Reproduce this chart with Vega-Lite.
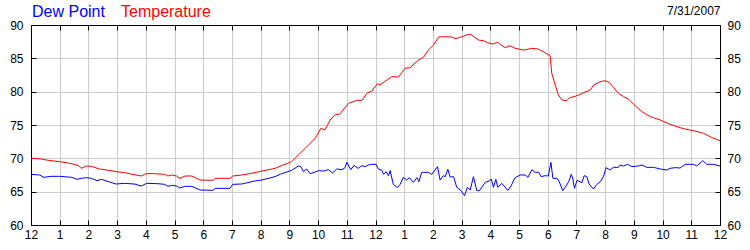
{
  "$schema": "https://vega.github.io/schema/vega-lite/v6.json",
  "width": 689,
  "height": 200,
  "autosize": {"type": "none"},
  "padding": {"left": 31, "top": 25, "right": 30, "bottom": 25},
  "background": "white",
  "config": {
    "view": {"stroke": "#000000", "strokeWidth": 1},
    "font": "Liberation Sans",
    "axis": {"labelFont": "Liberation Sans", "labelFontSize": 12, "labelColor": "#000000", "domainColor": "#000000", "tickColor": "#000000", "gridColor": "#cccccc", "gridWidth": 1, "title": null}
  },
  "datasets": {
    "weather": [
      {"hour": 0.0, "series": "Temperature", "value": 70.0},
      {"hour": 0.35, "series": "Temperature", "value": 69.9},
      {"hour": 0.6, "series": "Temperature", "value": 69.7},
      {"hour": 1.0, "series": "Temperature", "value": 69.5},
      {"hour": 1.3, "series": "Temperature", "value": 69.3},
      {"hour": 1.5, "series": "Temperature", "value": 69.1},
      {"hour": 1.65, "series": "Temperature", "value": 68.9},
      {"hour": 1.75, "series": "Temperature", "value": 68.5},
      {"hour": 1.93, "series": "Temperature", "value": 68.85},
      {"hour": 2.1, "series": "Temperature", "value": 68.8},
      {"hour": 2.39, "series": "Temperature", "value": 68.4},
      {"hour": 2.7, "series": "Temperature", "value": 68.2},
      {"hour": 2.96, "series": "Temperature", "value": 68.0},
      {"hour": 3.2, "series": "Temperature", "value": 67.9},
      {"hour": 3.48, "series": "Temperature", "value": 67.65},
      {"hour": 3.84, "series": "Temperature", "value": 67.35},
      {"hour": 4.0, "series": "Temperature", "value": 67.7},
      {"hour": 4.3, "series": "Temperature", "value": 67.7},
      {"hour": 4.66, "series": "Temperature", "value": 67.6},
      {"hour": 4.77, "series": "Temperature", "value": 67.35},
      {"hour": 4.9, "series": "Temperature", "value": 67.5},
      {"hour": 5.07, "series": "Temperature", "value": 67.35},
      {"hour": 5.18, "series": "Temperature", "value": 67.0},
      {"hour": 5.37, "series": "Temperature", "value": 67.35},
      {"hour": 5.6, "series": "Temperature", "value": 67.35},
      {"hour": 5.89, "series": "Temperature", "value": 66.75},
      {"hour": 6.35, "series": "Temperature", "value": 66.7},
      {"hour": 6.41, "series": "Temperature", "value": 67.0},
      {"hour": 6.93, "series": "Temperature", "value": 67.0},
      {"hour": 7.03, "series": "Temperature", "value": 67.35},
      {"hour": 7.34, "series": "Temperature", "value": 67.5},
      {"hour": 7.8, "series": "Temperature", "value": 67.85},
      {"hour": 8.04, "series": "Temperature", "value": 68.1},
      {"hour": 8.5, "series": "Temperature", "value": 68.5},
      {"hour": 8.7, "series": "Temperature", "value": 68.85},
      {"hour": 9.08, "series": "Temperature", "value": 69.5},
      {"hour": 9.31, "series": "Temperature", "value": 70.5},
      {"hour": 9.55, "series": "Temperature", "value": 71.5},
      {"hour": 9.72, "series": "Temperature", "value": 72.25},
      {"hour": 9.9, "series": "Temperature", "value": 73.0},
      {"hour": 10.1, "series": "Temperature", "value": 74.5},
      {"hour": 10.24, "series": "Temperature", "value": 74.25},
      {"hour": 10.42, "series": "Temperature", "value": 75.75},
      {"hour": 10.6, "series": "Temperature", "value": 76.6},
      {"hour": 10.75, "series": "Temperature", "value": 76.6},
      {"hour": 11.06, "series": "Temperature", "value": 78.25},
      {"hour": 11.35, "series": "Temperature", "value": 78.7},
      {"hour": 11.52, "series": "Temperature", "value": 78.7},
      {"hour": 11.7, "series": "Temperature", "value": 79.75},
      {"hour": 11.87, "series": "Temperature", "value": 80.1},
      {"hour": 12.07, "series": "Temperature", "value": 81.2},
      {"hour": 12.15, "series": "Temperature", "value": 81.0},
      {"hour": 12.57, "series": "Temperature", "value": 82.25},
      {"hour": 12.8, "series": "Temperature", "value": 82.2},
      {"hour": 13.03, "series": "Temperature", "value": 83.5},
      {"hour": 13.2, "series": "Temperature", "value": 83.6},
      {"hour": 13.5, "series": "Temperature", "value": 84.75},
      {"hour": 13.67, "series": "Temperature", "value": 85.15},
      {"hour": 13.84, "series": "Temperature", "value": 86.25},
      {"hour": 14.02, "series": "Temperature", "value": 87.0},
      {"hour": 14.2, "series": "Temperature", "value": 88.2},
      {"hour": 14.43, "series": "Temperature", "value": 88.25},
      {"hour": 14.66, "series": "Temperature", "value": 88.2},
      {"hour": 14.8, "series": "Temperature", "value": 87.95},
      {"hour": 15.0, "series": "Temperature", "value": 88.25},
      {"hour": 15.24, "series": "Temperature", "value": 88.6},
      {"hour": 15.33, "series": "Temperature", "value": 88.55},
      {"hour": 15.58, "series": "Temperature", "value": 87.75},
      {"hour": 15.75, "series": "Temperature", "value": 87.65},
      {"hour": 15.9, "series": "Temperature", "value": 87.35},
      {"hour": 16.08, "series": "Temperature", "value": 87.15},
      {"hour": 16.26, "series": "Temperature", "value": 87.4},
      {"hour": 16.34, "series": "Temperature", "value": 87.1},
      {"hour": 16.52, "series": "Temperature", "value": 86.6},
      {"hour": 16.69, "series": "Temperature", "value": 86.9},
      {"hour": 16.86, "series": "Temperature", "value": 86.5},
      {"hour": 17.03, "series": "Temperature", "value": 86.35},
      {"hour": 17.2, "series": "Temperature", "value": 86.25},
      {"hour": 17.44, "series": "Temperature", "value": 86.5},
      {"hour": 17.67, "series": "Temperature", "value": 86.4},
      {"hour": 17.88, "series": "Temperature", "value": 85.9},
      {"hour": 18.08, "series": "Temperature", "value": 85.4},
      {"hour": 18.14, "series": "Temperature", "value": 82.75},
      {"hour": 18.26, "series": "Temperature", "value": 81.0},
      {"hour": 18.37, "series": "Temperature", "value": 79.5},
      {"hour": 18.5, "series": "Temperature", "value": 78.75},
      {"hour": 18.65, "series": "Temperature", "value": 78.65},
      {"hour": 18.77, "series": "Temperature", "value": 79.1},
      {"hour": 18.95, "series": "Temperature", "value": 79.3},
      {"hour": 19.13, "series": "Temperature", "value": 79.6},
      {"hour": 19.24, "series": "Temperature", "value": 79.85},
      {"hour": 19.48, "series": "Temperature", "value": 80.25},
      {"hour": 19.6, "series": "Temperature", "value": 81.0},
      {"hour": 19.83, "series": "Temperature", "value": 81.5},
      {"hour": 20.0, "series": "Temperature", "value": 81.65},
      {"hour": 20.15, "series": "Temperature", "value": 81.35},
      {"hour": 20.29, "series": "Temperature", "value": 80.65},
      {"hour": 20.46, "series": "Temperature", "value": 79.75},
      {"hour": 20.64, "series": "Temperature", "value": 79.25},
      {"hour": 20.81, "series": "Temperature", "value": 78.9},
      {"hour": 20.99, "series": "Temperature", "value": 78.1},
      {"hour": 21.28, "series": "Temperature", "value": 77.0},
      {"hour": 21.57, "series": "Temperature", "value": 76.25},
      {"hour": 21.92, "series": "Temperature", "value": 75.75},
      {"hour": 22.26, "series": "Temperature", "value": 75.1},
      {"hour": 22.61, "series": "Temperature", "value": 74.6},
      {"hour": 22.78, "series": "Temperature", "value": 74.4},
      {"hour": 23.07, "series": "Temperature", "value": 74.15},
      {"hour": 23.43, "series": "Temperature", "value": 73.75},
      {"hour": 23.72, "series": "Temperature", "value": 73.1},
      {"hour": 24.0, "series": "Temperature", "value": 72.65},
      {"hour": 0.0, "series": "Dew Point", "value": 67.6},
      {"hour": 0.3, "series": "Dew Point", "value": 67.5},
      {"hour": 0.45, "series": "Dew Point", "value": 67.15},
      {"hour": 0.7, "series": "Dew Point", "value": 67.3},
      {"hour": 1.0, "series": "Dew Point", "value": 67.3},
      {"hour": 1.42, "series": "Dew Point", "value": 67.15},
      {"hour": 1.6, "series": "Dew Point", "value": 66.85},
      {"hour": 1.75, "series": "Dew Point", "value": 67.0},
      {"hour": 1.93, "series": "Dew Point", "value": 67.1},
      {"hour": 2.1, "series": "Dew Point", "value": 67.0},
      {"hour": 2.3, "series": "Dew Point", "value": 66.65},
      {"hour": 2.45, "series": "Dew Point", "value": 66.85},
      {"hour": 2.96, "series": "Dew Point", "value": 66.15},
      {"hour": 3.25, "series": "Dew Point", "value": 66.25},
      {"hour": 3.6, "series": "Dew Point", "value": 66.15},
      {"hour": 3.84, "series": "Dew Point", "value": 65.85},
      {"hour": 4.03, "series": "Dew Point", "value": 66.25},
      {"hour": 4.4, "series": "Dew Point", "value": 66.2},
      {"hour": 4.66, "series": "Dew Point", "value": 66.1},
      {"hour": 4.77, "series": "Dew Point", "value": 65.8},
      {"hour": 4.9, "series": "Dew Point", "value": 65.95},
      {"hour": 5.07, "series": "Dew Point", "value": 65.85},
      {"hour": 5.18, "series": "Dew Point", "value": 65.55},
      {"hour": 5.37, "series": "Dew Point", "value": 65.8},
      {"hour": 5.6, "series": "Dew Point", "value": 65.8},
      {"hour": 5.89, "series": "Dew Point", "value": 65.25},
      {"hour": 6.35, "series": "Dew Point", "value": 65.2},
      {"hour": 6.41, "series": "Dew Point", "value": 65.5},
      {"hour": 6.93, "series": "Dew Point", "value": 65.5},
      {"hour": 7.03, "series": "Dew Point", "value": 66.1},
      {"hour": 7.34, "series": "Dew Point", "value": 66.15},
      {"hour": 7.8, "series": "Dew Point", "value": 66.6},
      {"hour": 8.04, "series": "Dew Point", "value": 66.75},
      {"hour": 8.5, "series": "Dew Point", "value": 67.25},
      {"hour": 8.7, "series": "Dew Point", "value": 67.65},
      {"hour": 9.08, "series": "Dew Point", "value": 68.2},
      {"hour": 9.31, "series": "Dew Point", "value": 68.85},
      {"hour": 9.4, "series": "Dew Point", "value": 68.75},
      {"hour": 9.49, "series": "Dew Point", "value": 68.0},
      {"hour": 9.6, "series": "Dew Point", "value": 68.4},
      {"hour": 9.72, "series": "Dew Point", "value": 67.7},
      {"hour": 9.86, "series": "Dew Point", "value": 67.9},
      {"hour": 10.01, "series": "Dew Point", "value": 68.15},
      {"hour": 10.19, "series": "Dew Point", "value": 68.1},
      {"hour": 10.36, "series": "Dew Point", "value": 68.3},
      {"hour": 10.5, "series": "Dew Point", "value": 67.8},
      {"hour": 10.65, "series": "Dew Point", "value": 68.4},
      {"hour": 10.83, "series": "Dew Point", "value": 68.3},
      {"hour": 10.94, "series": "Dew Point", "value": 68.6},
      {"hour": 11.0, "series": "Dew Point", "value": 69.4},
      {"hour": 11.14, "series": "Dew Point", "value": 68.3},
      {"hour": 11.25, "series": "Dew Point", "value": 68.95},
      {"hour": 11.4, "series": "Dew Point", "value": 68.5},
      {"hour": 11.52, "series": "Dew Point", "value": 68.9},
      {"hour": 11.64, "series": "Dew Point", "value": 68.75},
      {"hour": 11.75, "series": "Dew Point", "value": 69.0},
      {"hour": 11.87, "series": "Dew Point", "value": 69.1},
      {"hour": 12.02, "series": "Dew Point", "value": 69.1},
      {"hour": 12.1, "series": "Dew Point", "value": 68.4},
      {"hour": 12.22, "series": "Dew Point", "value": 68.2},
      {"hour": 12.28, "series": "Dew Point", "value": 67.6},
      {"hour": 12.37, "series": "Dew Point", "value": 68.0},
      {"hour": 12.45, "series": "Dew Point", "value": 67.4},
      {"hour": 12.51, "series": "Dew Point", "value": 68.15},
      {"hour": 12.62, "series": "Dew Point", "value": 66.1},
      {"hour": 12.76, "series": "Dew Point", "value": 65.6},
      {"hour": 12.86, "series": "Dew Point", "value": 66.1},
      {"hour": 12.97, "series": "Dew Point", "value": 67.15},
      {"hour": 13.09, "series": "Dew Point", "value": 66.75},
      {"hour": 13.18, "series": "Dew Point", "value": 67.1},
      {"hour": 13.32, "series": "Dew Point", "value": 66.4},
      {"hour": 13.44, "series": "Dew Point", "value": 67.1},
      {"hour": 13.51, "series": "Dew Point", "value": 66.5},
      {"hour": 13.61, "series": "Dew Point", "value": 67.9},
      {"hour": 13.84, "series": "Dew Point", "value": 67.9},
      {"hour": 13.96, "series": "Dew Point", "value": 67.6},
      {"hour": 14.16, "series": "Dew Point", "value": 68.75},
      {"hour": 14.25, "series": "Dew Point", "value": 66.75},
      {"hour": 14.36, "series": "Dew Point", "value": 67.4},
      {"hour": 14.43, "series": "Dew Point", "value": 67.25},
      {"hour": 14.52, "series": "Dew Point", "value": 68.35},
      {"hour": 14.6, "series": "Dew Point", "value": 67.2},
      {"hour": 14.72, "series": "Dew Point", "value": 67.25},
      {"hour": 14.83, "series": "Dew Point", "value": 65.65},
      {"hour": 14.98, "series": "Dew Point", "value": 65.15},
      {"hour": 15.1, "series": "Dew Point", "value": 64.4},
      {"hour": 15.2, "series": "Dew Point", "value": 65.65},
      {"hour": 15.3, "series": "Dew Point", "value": 65.25},
      {"hour": 15.41, "series": "Dew Point", "value": 67.25},
      {"hour": 15.53, "series": "Dew Point", "value": 65.15},
      {"hour": 15.62, "series": "Dew Point", "value": 65.15},
      {"hour": 15.82, "series": "Dew Point", "value": 66.4},
      {"hour": 15.96, "series": "Dew Point", "value": 66.6},
      {"hour": 16.03, "series": "Dew Point", "value": 66.9},
      {"hour": 16.11, "series": "Dew Point", "value": 65.65},
      {"hour": 16.19, "series": "Dew Point", "value": 66.85},
      {"hour": 16.26, "series": "Dew Point", "value": 65.65},
      {"hour": 16.4, "series": "Dew Point", "value": 66.25},
      {"hour": 16.61, "series": "Dew Point", "value": 65.2},
      {"hour": 16.72, "series": "Dew Point", "value": 65.85},
      {"hour": 16.86, "series": "Dew Point", "value": 67.1},
      {"hour": 17.04, "series": "Dew Point", "value": 67.5},
      {"hour": 17.21, "series": "Dew Point", "value": 67.5},
      {"hour": 17.31, "series": "Dew Point", "value": 67.15},
      {"hour": 17.45, "series": "Dew Point", "value": 68.3},
      {"hour": 17.56, "series": "Dew Point", "value": 67.9},
      {"hour": 17.68, "series": "Dew Point", "value": 67.9},
      {"hour": 17.77, "series": "Dew Point", "value": 67.25},
      {"hour": 17.91, "series": "Dew Point", "value": 67.4},
      {"hour": 18.02, "series": "Dew Point", "value": 67.35},
      {"hour": 18.11, "series": "Dew Point", "value": 69.4},
      {"hour": 18.18, "series": "Dew Point", "value": 67.0},
      {"hour": 18.32, "series": "Dew Point", "value": 67.0},
      {"hour": 18.4, "series": "Dew Point", "value": 66.5},
      {"hour": 18.52, "series": "Dew Point", "value": 65.15},
      {"hour": 18.64, "series": "Dew Point", "value": 65.85},
      {"hour": 18.73, "series": "Dew Point", "value": 66.5},
      {"hour": 18.82, "series": "Dew Point", "value": 67.6},
      {"hour": 18.87, "series": "Dew Point", "value": 67.0},
      {"hour": 18.93, "series": "Dew Point", "value": 65.5},
      {"hour": 19.02, "series": "Dew Point", "value": 66.7},
      {"hour": 19.19, "series": "Dew Point", "value": 66.35},
      {"hour": 19.27, "series": "Dew Point", "value": 67.4},
      {"hour": 19.36, "series": "Dew Point", "value": 67.25},
      {"hour": 19.44, "series": "Dew Point", "value": 66.15},
      {"hour": 19.59, "series": "Dew Point", "value": 65.4},
      {"hour": 19.69, "series": "Dew Point", "value": 66.0},
      {"hour": 19.83, "series": "Dew Point", "value": 66.5},
      {"hour": 19.94, "series": "Dew Point", "value": 67.25},
      {"hour": 20.03, "series": "Dew Point", "value": 68.6},
      {"hour": 20.17, "series": "Dew Point", "value": 68.25},
      {"hour": 20.29, "series": "Dew Point", "value": 68.65},
      {"hour": 20.46, "series": "Dew Point", "value": 68.65},
      {"hour": 20.52, "series": "Dew Point", "value": 69.0},
      {"hour": 20.64, "series": "Dew Point", "value": 68.85},
      {"hour": 20.78, "series": "Dew Point", "value": 69.1},
      {"hour": 20.93, "series": "Dew Point", "value": 68.75},
      {"hour": 21.16, "series": "Dew Point", "value": 68.85},
      {"hour": 21.28, "series": "Dew Point", "value": 69.0},
      {"hour": 21.45, "series": "Dew Point", "value": 68.65},
      {"hour": 21.68, "series": "Dew Point", "value": 68.65},
      {"hour": 21.92, "series": "Dew Point", "value": 68.4},
      {"hour": 22.15, "series": "Dew Point", "value": 68.25},
      {"hour": 22.26, "series": "Dew Point", "value": 68.5},
      {"hour": 22.44, "series": "Dew Point", "value": 68.6},
      {"hour": 22.61, "series": "Dew Point", "value": 68.55},
      {"hour": 22.79, "series": "Dew Point", "value": 69.1},
      {"hour": 23.08, "series": "Dew Point", "value": 69.1},
      {"hour": 23.19, "series": "Dew Point", "value": 68.85},
      {"hour": 23.4, "series": "Dew Point", "value": 69.65},
      {"hour": 23.54, "series": "Dew Point", "value": 69.1},
      {"hour": 23.77, "series": "Dew Point", "value": 69.1},
      {"hour": 24.0, "series": "Dew Point", "value": 68.85}
    ]
  },
  "data": {"name": "weather"},
  "layer": [
    {
      "mark": {"type": "line", "opacity": 0},
      "encoding": {
        "x": {"field": "hour", "type": "quantitative", "scale": {"domain": [0, 24], "nice": false, "zero": false},
              "axis": {"orient": "top", "values": [0,1,2,3,4,5,6,7,8,9,10,11,12,13,14,15,16,17,18,19,20,21,22,23,24], "labels": false, "grid": false, "domain": true, "ticks": true, "tickSize": -5,
                       "title": "7/31/2007", "titleAnchor": "end", "titleAlign": "right", "titleFont": "Liberation Sans", "titleFontSize": 12, "titleFontWeight": "normal", "titleColor": "#000000", "titlePadding": 7}},
        "y": {"field": "value", "type": "quantitative", "scale": {"domain": [60, 90], "nice": false, "zero": false},
              "axis": {"orient": "right", "values": [60,65,70,75,80,85,90], "grid": false, "tickSize": -5, "labelPadding": 12}},
        "detail": {"field": "series"}
      }
    },
    {
      "mark": {"type": "line", "strokeWidth": 1},
      "encoding": {
        "x": {"field": "hour", "type": "quantitative", "scale": {"domain": [0, 24], "nice": false, "zero": false},
              "axis": {"orient": "bottom", "values": [0,1,2,3,4,5,6,7,8,9,10,11,12,13,14,15,16,17,18,19,20,21,22,23,24], "labelExpr": "datum.value % 12 == 0 ? '12' : '' + (datum.value % 12)", "grid": true, "tickSize": -5, "labelPadding": 9, "labelFlush": false}},
        "y": {"field": "value", "type": "quantitative", "scale": {"domain": [60, 90], "nice": false, "zero": false},
              "axis": {"orient": "left", "values": [60,65,70,75,80,85,90], "grid": true, "tickSize": -5, "labelPadding": 13}},
        "color": {"field": "series", "type": "nominal", "scale": {"domain": ["Dew Point", "Temperature"], "range": ["#0000ff", "#ff0000"]},
                  "legend": {"orient": "none", "legendX": -15, "legendY": -21, "direction": "horizontal", "title": null, "symbolSize": 0, "symbolOpacity": 0, "symbolStrokeWidth": 0, "labelOffset": 0, "labelFontSize": 16, "labelFont": "Liberation Sans", "columnPadding": -28, "padding": 0, "labelColor": {"expr": "datum.value == 'Dew Point' ? '#0000ff' : '#ff0000'"}}}
      }
    }
  ],
  "resolve": {"axis": {"x": "independent", "y": "independent"}}
}
